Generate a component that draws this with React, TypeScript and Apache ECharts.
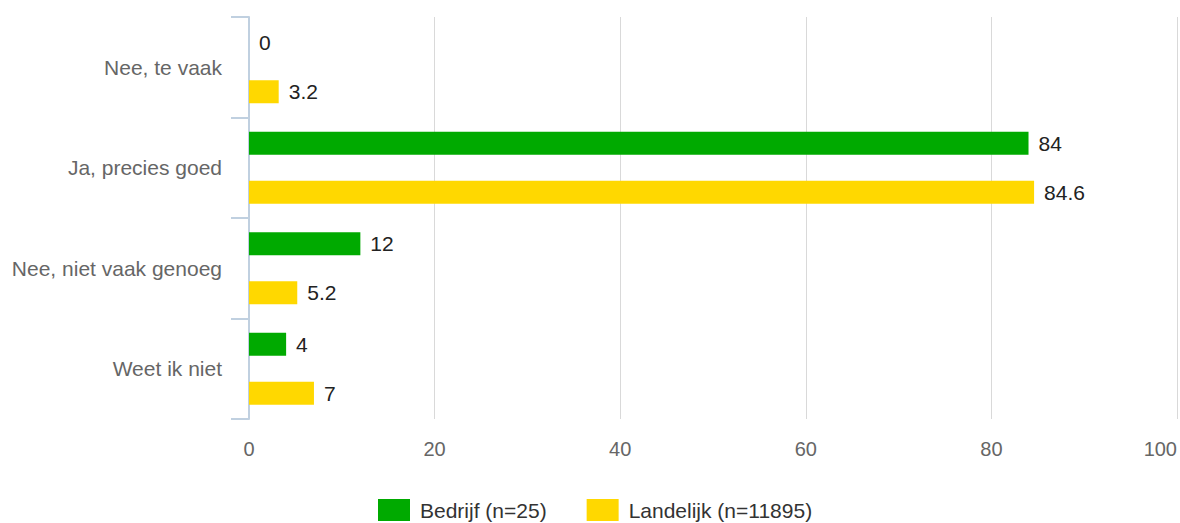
import React, { useEffect, useRef } from "react";
import * as echarts from "echarts";

const categories = ["Nee, te vaak", "Ja, precies goed", "Nee, niet vaak genoeg", "Weet ik niet"];
const bedrijf = [0, 84, 12, 4];
const landelijk = [3.2, 84.6, 5.2, 7];
const seriesNames = ["Bedrijf (n=25)", "Landelijk (n=11895)"];
const xTicks = { min: 0, max: 100, interval: 20 };

const FONT = "'Liberation Sans', Arial, sans-serif";

export default function App() {
  const ref = useRef<HTMLDivElement>(null);
  useEffect(() => {
    if (!ref.current) return;
    const chart = echarts.init(ref.current, undefined, { renderer: "svg" });
    const labelStyle = {
      show: true,
      position: "right" as const,
      distance: 10,
      color: "#222",
      fontSize: 21,
      fontFamily: FONT,
    };
    chart.setOption({
      animation: false,
      textStyle: { fontFamily: FONT },
      grid: { left: 249, right: 2, top: 17, bottom: 104, containLabel: false },
      legend: {
        bottom: 2,
        left: 378,
        padding: 0,
        itemWidth: 32,
        itemHeight: 22,
        itemGap: 40,
        icon: "rect",
        textStyle: { color: "#333", fontSize: 21, fontFamily: FONT, padding: [0, 0, 0, 5] },
        data: seriesNames,
      },
      xAxis: {
        type: "value",
        min: xTicks.min,
        max: xTicks.max,
        interval: xTicks.interval,
        axisLine: { show: false },
        axisTick: { show: false },
        axisLabel: {
          color: "#666",
          fontSize: 20,
          fontFamily: FONT,
          margin: 20,
          alignMaxLabel: "right",
        },
        splitLine: { show: true, lineStyle: { color: "#d9d9d9", width: 1 } },
      },
      yAxis: {
        type: "category",
        inverse: true,
        data: categories,
        axisLine: { show: true, lineStyle: { color: "#c0d0e0", width: 2 } },
        axisTick: { show: true, length: 18, alignWithLabel: false, lineStyle: { color: "#c0d0e0", width: 2 } },
        axisLabel: { color: "#666", fontSize: 21, fontFamily: FONT, margin: 27 },
        splitLine: { show: false },
      },
      series: [
        {
          name: seriesNames[0],
          type: "bar",
          data: bedrijf,
          barWidth: 23,
          barGap: "113%",
          itemStyle: { color: "#00aa00" },
          label: labelStyle,
        },
        {
          name: seriesNames[1],
          type: "bar",
          data: landelijk,
          barWidth: 23,
          barGap: "113%",
          itemStyle: { color: "#ffd800" },
          label: labelStyle,
        },
      ],
    });
    return () => chart.dispose();
  }, []);
  return <div ref={ref} style={{ width: 1180, height: 523, position: "absolute", left: 0, top: 0 }} />;
}
